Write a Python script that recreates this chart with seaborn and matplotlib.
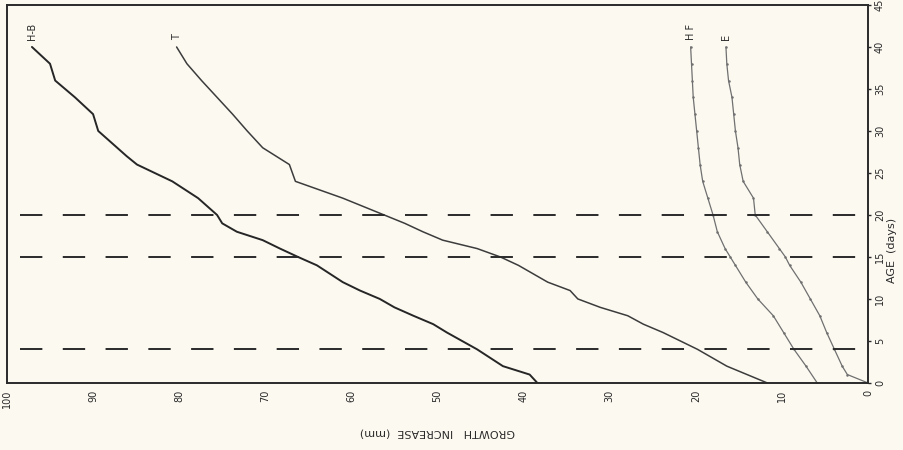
import matplotlib
matplotlib.use("Agg")
import matplotlib.pyplot as plt
import seaborn as sns
import pandas as pd

# growth increase (mm), per age (days)
hb_age = [0, 1, 2, 4, 6, 7, 8, 9, 10, 11, 12, 14, 15, 16, 17, 18, 19, 20,
          22, 24, 26, 27, 30, 32, 34, 36, 38, 40]
hb_growth = [38.4, 39.3, 42.4, 45.4, 48.9, 50.5, 52.8, 55.0, 56.7, 59.0, 61.0,
             64.0, 66.2, 68.3, 70.3, 73.3, 75.0, 75.6, 77.8, 80.8, 84.9, 86.1,
             89.4, 90.0, 92.1, 94.4, 95.0, 97.1]

t_age = [0, 2, 4, 6, 7, 8, 9, 10, 11, 12, 13, 14, 15, 16, 17, 18, 19, 20,
         22, 24, 26, 28, 30, 32, 34, 36, 38, 40]
t_growth = [11.7, 16.4, 19.8, 23.8, 26.1, 27.9, 31.1, 33.7, 34.6, 37.2, 38.9,
            40.6, 42.7, 45.4, 49.4, 51.7, 53.8, 56.2, 61.0, 66.5, 67.2, 70.3,
            72.1, 73.8, 75.6, 77.4, 79.1, 80.3]

hf_age = [0, 2, 4, 6, 8, 10, 12, 14, 15, 16, 18, 20, 22, 24, 26, 28, 30,
          32, 34, 36, 38, 40]
hf_growth = [5.9, 7.2, 8.6, 9.8, 11.0, 12.8, 14.2, 15.4, 16.0, 16.6, 17.5,
             18.0, 18.6, 19.2, 19.5, 19.7, 19.9, 20.1, 20.3, 20.4, 20.5, 20.6]

e_age = [0, 1, 2, 4, 6, 8, 10, 12, 14, 15, 16, 18, 20, 22, 24, 26, 28, 30,
         32, 34, 36, 38, 40]
e_growth = [0.0, 2.4, 3.0, 3.9, 4.8, 5.6, 6.7, 7.8, 9.1, 9.6, 10.3, 11.7,
            13.1, 13.3, 14.5, 14.9, 15.1, 15.4, 15.6, 15.8, 16.2, 16.4, 16.5]

series_names = ["H-B", "T", "H F", "E"]
marker_ages = [4, 15, 20]

frames = []
for name, a, g in zip(series_names, [hb_age, t_age, hf_age, e_age],
                      [hb_growth, t_growth, hf_growth, e_growth]):
    frames.append(pd.DataFrame({"series": name, "age": a, "growth": g}))
df = pd.concat(frames, ignore_index=True)

sns.set_style("white")
plt.rcParams["font.family"] = ["DejaVu Sans"]

bg = "#fcf9f1"
ink = "#2a2a2a"
colors = {"H-B": "#262626", "T": "#3c3c3c", "H F": "#707070", "E": "#707070"}
widths = {"H-B": 1.4, "T": 1.1, "H F": 0.9, "E": 0.9}

fig = plt.figure(figsize=(9.04, 4.5), dpi=100, facecolor=bg)
ax = fig.add_axes([0.0077, 0.149, 0.9525, 0.84])
ax.set_facecolor(bg)

for name in series_names:
    sub = df[df["series"] == name]
    sns.lineplot(data=sub, x="growth", y="age", sort=False, estimator=None,
                 color=colors[name], linewidth=widths[name], ax=ax,
                 marker="o" if name in ("H F", "E") else None,
                 markersize=1.8, markeredgewidth=0, legend=False)
    last = sub.iloc[-1]
    ax.text(last["growth"], last["age"] + 0.8, name, rotation=90,
            ha="center", va="bottom", fontsize=7, color=ink)

# dashed reference ages
for a in marker_ages:
    ax.axhline(a, xmin=0.015, xmax=1.0, color=ink, linewidth=1.4,
               linestyle=(0, (11.5, 10.5)))

ax.set_xlim(100, 0)
ax.set_ylim(0, 45)
ax.set_xticks(range(0, 101, 10))
ax.set_xticks(range(5, 100, 10), minor=True)
ax.set_yticks(range(0, 46, 5))
ax.yaxis.tick_right()
ax.tick_params(axis="x", which="both", direction="in", length=4, width=1,
               colors=ink, labelsize=7, labelrotation=90, pad=5)
ax.tick_params(axis="y", direction="out", length=2, width=1, colors=ink,
               labelsize=7, labelrotation=90, pad=3)
for lbl in ax.get_yticklabels():
    lbl.set_va("center")

for sp in ax.spines.values():
    sp.set_visible(True)
    sp.set_color(ink)
    sp.set_linewidth(1.4)

ax.set_xlabel("GROWTH   INCREASE  (mm)", rotation=180, fontsize=8,
              color=ink, labelpad=14)
ax.set_ylabel("AGE  (days)", rotation=90, fontsize=8, color=ink)
ax.yaxis.set_label_position("right")
ax.yaxis.set_label_coords(1.022, 0.35)

fig.savefig("out.png", dpi=100, facecolor=bg)
